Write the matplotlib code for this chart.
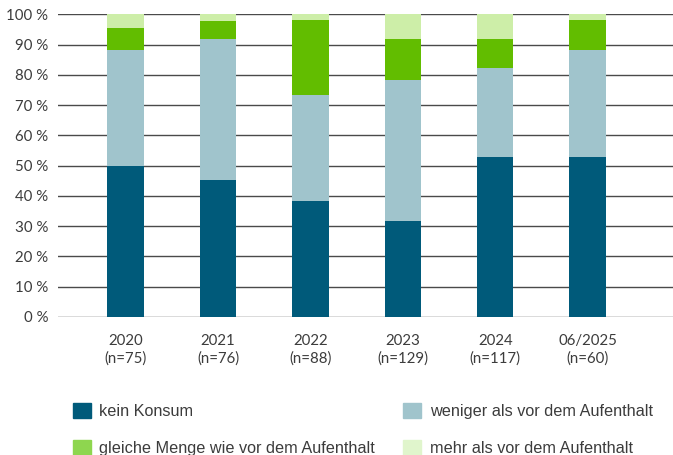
import matplotlib.pyplot as plt
from matplotlib.patches import Patch

# data (percent)
years = ["2020\n(n=75)", "2021\n(n=76)", "2022\n(n=88)", "2023\n(n=129)", "2024\n(n=117)", "06/2025\n(n=60)"]
kein = [50.0, 45.3, 38.4, 31.7, 52.9, 52.9]
weniger = [38.3, 46.6, 35.0, 46.7, 29.4, 35.4]
gleiche = [7.3, 6.0, 24.8, 13.5, 9.6, 9.9]
mehr = [4.4, 2.1, 1.8, 8.1, 8.1, 1.8]

labels = ["kein Konsum", "weniger als vor dem Aufenthalt",
          "gleiche Menge wie vor dem Aufenthalt", "mehr als vor dem Aufenthalt"]
bar_colors = ["#005a7a", "#a0c4cc", "#62bd00", "#cdeea8"]
legend_colors = ["#005a7a", "#a0c4cc", "#8ed64f", "#e0f5cc"]

text_col = "#3c3c3c"

fig = plt.figure(figsize=(6.73, 4.55), dpi=100)
ax = fig.add_axes([58 / 673, 138 / 455, 615 / 673, 302.7 / 455])

x = list(range(len(years)))
w = 0.394
bottom = [0.0] * len(years)
for vals, c in zip([kein, weniger, gleiche, mehr], bar_colors):
    ax.bar(x, vals, w, bottom=bottom, color=c, zorder=2)
    bottom = [b + v for b, v in zip(bottom, vals)]

ax.set_ylim(0, 100)
ax.set_xlim(-0.732, 5.924)
for v in range(0, 101, 10):
    ax.axhline(v, color="#4a4a4a", lw=1.0, zorder=1)

ax.set_yticks(range(0, 101, 10))
ax.set_yticklabels([f"{v} %" for v in range(0, 101, 10)])
ax.set_xticks(x)
ax.set_xticklabels(years, linespacing=1.3)
ax.tick_params(length=0, colors=text_col, labelsize=10.8)
ax.tick_params(axis="y", pad=7)
ax.tick_params(axis="x", pad=12)
for lab in ax.get_xticklabels() + ax.get_yticklabels():
    lab.set_family(["Lato", "DejaVu Sans"])
for s in ax.spines.values():
    s.set_visible(False)

handles = [Patch(color=c) for c in legend_colors]
order = [0, 2, 1, 3]
fig.legend([handles[i] for i in order], [labels[i] for i in order],
           ncol=2, loc="upper left", bbox_to_anchor=(58 / 673, 1 - 388 / 455),
           frameon=False, prop={"family": "Liberation Sans", "size": 11.7},
           labelcolor=text_col, handlelength=1.1, handleheight=1.1,
           handletextpad=0.55, columnspacing=1.7, labelspacing=1.3)

fig.savefig("out.png", dpi=100)
